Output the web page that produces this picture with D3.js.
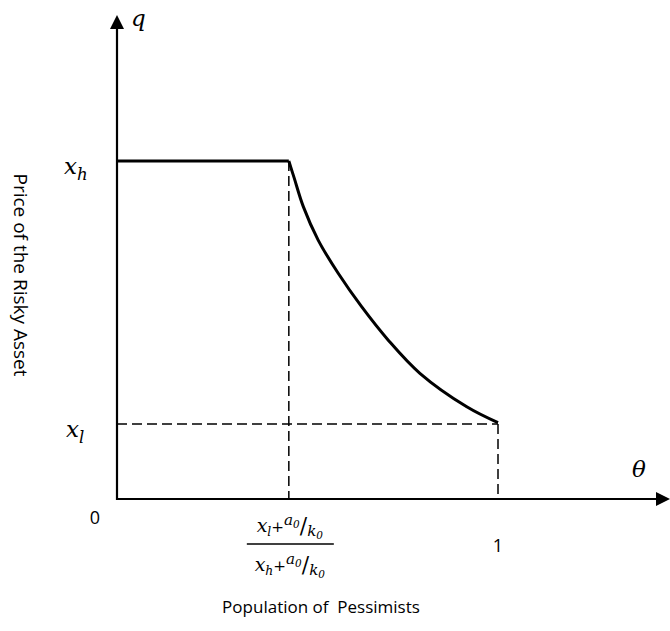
<!DOCTYPE html>
<html><head><meta charset="utf-8">
<script src="https://cdn.jsdelivr.net/npm/d3@7"></script>
<style>body{margin:0;background:#fff}svg{display:block}</style>
</head><body>
<svg id="c" width="670" height="631"></svg>
<script>
// Data (theta = share of pessimists, q = price, x_h = 1)
const thetaThreshold = 0.451;
const qHigh = 1.0;
const qLow = 0.222;
const flatTheta = [0, 0.451];
const flatQ = [1.0, 1.0];
const curveTheta = [0.451, 0.465, 0.489, 0.528, 0.581, 0.642, 0.712, 0.795, 0.918, 1.0];
const curveQ = [1.0, 0.950, 0.865, 0.766, 0.667, 0.569, 0.470, 0.372, 0.273, 0.226];
const xAxisLabel = "Population of  Pessimists";
const yAxisLabel = "Price of the Risky Asset";

const svg = d3.select("#c");
const x = d3.scaleLinear().domain([0, 1]).range([117, 498]);
const y = d3.scaleLinear().domain([0, 1]).range([499, 161]);
const xMax = x.invert(670), yMax = y.invert(15);

const sansFont = "'Open Sans', 'Liberation Sans', sans-serif";
const mathFont = "'DejaVu Serif', 'Liberation Serif', serif";

// dashed guides
const dash = "10,5";
const dw = 1.5;
svg.append("line").attr("x1", x(0)).attr("x2", x(1)).attr("y1", y(qLow)).attr("y2", y(qLow))
  .attr("stroke", "#000").attr("stroke-width", dw).attr("stroke-dasharray", dash);
svg.append("line").attr("x1", x(thetaThreshold)).attr("x2", x(thetaThreshold)).attr("y1", y(qHigh)).attr("y2", y(0))
  .attr("stroke", "#000").attr("stroke-width", dw).attr("stroke-dasharray", dash);
svg.append("line").attr("x1", x(1)).attr("x2", x(1)).attr("y1", y(qLow)).attr("y2", y(0))
  .attr("stroke", "#000").attr("stroke-width", dw).attr("stroke-dasharray", dash);

// axes
svg.append("line").attr("x1", x(0)).attr("x2", x(xMax) - 10).attr("y1", y(0)).attr("y2", y(0))
  .attr("stroke", "#000").attr("stroke-width", 2.2);
svg.append("line").attr("x1", x(0)).attr("x2", x(0)).attr("y1", y(0) + 1).attr("y2", y(yMax) + 10)
  .attr("stroke", "#000").attr("stroke-width", 2.2);
// arrowheads
const xt = x(xMax), yt = y(0);
svg.append("path").attr("d", `M${xt},${yt} L${xt-14},${yt-7} L${xt-14},${yt+7} Z`).attr("fill", "#000");
const ax = x(0), ay = y(yMax);
svg.append("path").attr("d", `M${ax},${ay} L${ax-7},${ay+14} L${ax+7},${ay+14} Z`).attr("fill", "#000");

// curve
const flat = flatTheta.map((t, i) => [t, flatQ[i]]);
const curve = curveTheta.map((t, i) => [t, curveQ[i]]);
const line = d3.line().x(d => x(d[0])).y(d => y(d[1]));
svg.append("path").attr("d", line(flat)).attr("fill", "none").attr("stroke", "#000").attr("stroke-width", 3);
svg.append("path").attr("d", d3.line().x(d => x(d[0])).y(d => y(d[1])).curve(d3.curveCatmullRom.alpha(0.5))(curve))
  .attr("fill", "none").attr("stroke", "#000").attr("stroke-width", 3);

// math labels
function sym(px, py, main, sub, size) {
  const t = svg.append("text").attr("x", px).attr("y", py).attr("font-family", mathFont)
    .attr("font-style", "italic").attr("font-size", size);
  t.append("tspan").text(main);
  if (sub) t.append("tspan").attr("font-size", size * 0.72).attr("dy", size * 0.25).text(sub);
  return t;
}
sym(131, 26, "q", null, 23);
sym(64, 174, "x", "h", 23);
sym(66, 437, "x", "l", 23);
sym(632, 477, "θ", null, 23);

// tick labels
svg.append("text").attr("x", 95).attr("y", 524).attr("text-anchor", "middle")
  .attr("font-family", sansFont).attr("font-size", 18).text("0");
svg.append("text").attr("x", x(1)).attr("y", 552).attr("text-anchor", "middle")
  .attr("font-family", sansFont).attr("font-size", 18).text("1");

// fraction label at threshold
function fracPart(py, base, baseSub) {
  const s = 19;
  const t = svg.append("text").attr("x", x(thetaThreshold) + 1).attr("y", py).attr("text-anchor", "middle")
    .attr("font-family", mathFont).attr("font-style", "italic").attr("font-size", s);
  t.append("tspan").text(base);
  t.append("tspan").attr("font-size", s * 0.65).attr("dy", 4).text(baseSub);
  t.append("tspan").attr("font-style", "normal").attr("font-size", s * 0.8).attr("dy", -4).text("+");
  t.append("tspan").attr("font-size", s * 0.8).attr("dy", -7).text("a");
  t.append("tspan").attr("font-size", s * 0.55).attr("dy", 3).text("0");
  t.append("tspan").attr("font-style", "normal").attr("font-size", s * 1.15).attr("dy", 5).text("/");
  t.append("tspan").attr("font-size", s * 0.8).attr("dy", 3).text("k");
  t.append("tspan").attr("font-size", s * 0.55).attr("dy", 3).text("0");
}
fracPart(532, "x", "l");
svg.append("line").attr("x1", x(thetaThreshold) - 42).attr("x2", x(thetaThreshold) + 45)
  .attr("y1", 544).attr("y2", 544).attr("stroke", "#000").attr("stroke-width", 1.5);
fracPart(571, "x", "h");

// axis titles
svg.append("text").attr("x", 321).attr("y", 613).attr("text-anchor", "middle")
  .attr("font-family", sansFont).attr("font-size", 17).attr("xml:space", "preserve").text(xAxisLabel);
svg.append("text").attr("transform", "translate(14,275) rotate(90)").attr("text-anchor", "middle")
  .attr("font-family", sansFont).attr("font-size", 19).text(yAxisLabel);
</script>
</body></html>
